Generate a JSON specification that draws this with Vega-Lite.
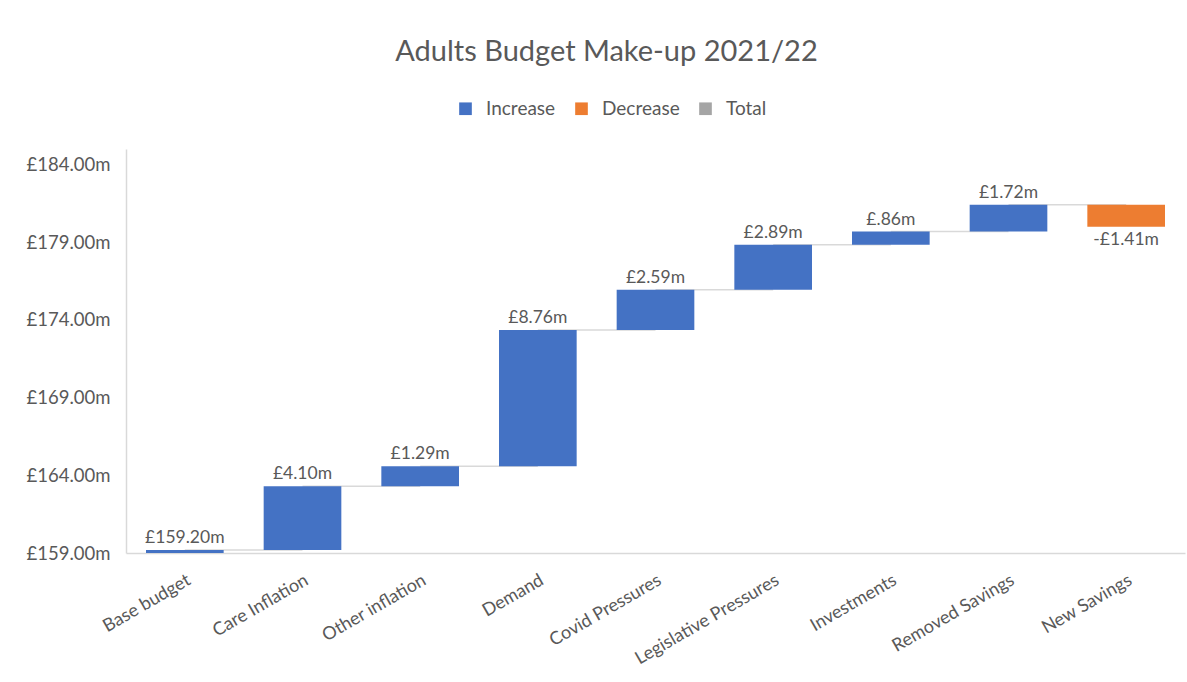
{
  "$schema": "https://vega.github.io/schema/vega-lite/v6.json",
  "width": 1059,
  "height": 404,
  "autosize": {"type": "none"},
  "padding": {"left": 126, "top": 149, "right": 2, "bottom": 129},
  "background": "white",
  "config": {
    "view": {"stroke": null},
    "font": "Lato",
    "text": {"font": "Lato"}
  },
  "title": {
    "text": "Adults Budget Make-up 2021/22",
    "fontSize": 29,
    "font": "Lato",
    "fontWeight": "normal",
    "color": "#595959",
    "anchor": "middle",
    "dx": -49,
    "offset": 32
  },
  "data": {
    "values": [
      {"cat": "Base budget", "start": 0, "end": 159.2, "type": "Increase", "label": "£159.20m", "next": "Care Inflation"},
      {"cat": "Care Inflation", "start": 159.2, "end": 163.3, "type": "Increase", "label": "£4.10m", "next": "Other inflation"},
      {"cat": "Other inflation", "start": 163.3, "end": 164.59, "type": "Increase", "label": "£1.29m", "next": "Demand"},
      {"cat": "Demand", "start": 164.59, "end": 173.35, "type": "Increase", "label": "£8.76m", "next": "Covid Pressures"},
      {"cat": "Covid Pressures", "start": 173.35, "end": 175.94, "type": "Increase", "label": "£2.59m", "next": "Legislative Pressures"},
      {"cat": "Legislative Pressures", "start": 175.94, "end": 178.83, "type": "Increase", "label": "£2.89m", "next": "Investments"},
      {"cat": "Investments", "start": 178.83, "end": 179.69, "type": "Increase", "label": "£.86m", "next": "Removed Savings"},
      {"cat": "Removed Savings", "start": 179.69, "end": 181.41, "type": "Increase", "label": "£1.72m", "next": "New Savings"},
      {"cat": "New Savings", "start": 181.41, "end": 180.0, "type": "Decrease", "label": "-£1.41m", "next": null}
    ]
  },
  "encoding": {
    "x": {
      "field": "cat",
      "type": "nominal",
      "sort": null,
      "scale": {"paddingInner": 0.34, "paddingOuter": 0.17},
      "axis": {
        "title": null,
        "labelAngle": -30,
        "labelFontSize": 18,
        "labelColor": "#595959",
        "labelFont": "Lato",
        "domainColor": "#D9D9D9",
        "domainWidth": 1.5,
        "ticks": false,
        "labelPadding": 18
      }
    }
  },
  "layer": [
    {
      "transform": [{"filter": "datum.next != null"}],
      "mark": {"type": "rule", "color": "#D9D9D9", "strokeWidth": 1.5},
      "encoding": {
        "x": {"field": "cat", "type": "nominal", "sort": null, "bandPosition": 0.5},
        "x2": {"field": "next", "bandPosition": 0.5},
        "y": {"field": "end", "type": "quantitative"}
      }
    },
    {
      "mark": {"type": "bar", "clip": true},
      "encoding": {
        "y": {
          "field": "start",
          "type": "quantitative",
          "scale": {"domain": [159, 185], "nice": false, "zero": false},
          "axis": {
            "title": null,
            "values": [159, 164, 169, 174, 179, 184],
            "labelExpr": "'£' + format(datum.value, '.2f') + 'm'",
            "labelFontSize": 18.5,
            "labelColor": "#595959",
            "labelFont": "Lato",
            "domainColor": "#D9D9D9",
            "domainWidth": 1.5,
            "ticks": false,
            "grid": false,
            "labelPadding": 16
          }
        },
        "y2": {"field": "end"},
        "color": {
          "field": "type",
          "type": "nominal",
          "scale": {"domain": ["Increase", "Decrease", "Total"], "range": ["#4472C4", "#ED7D31", "#A5A5A5"]},
          "legend": {
            "title": null,
            "orient": "none",
            "direction": "horizontal",
            "legendX": 330,
            "legendY": -50,
            "symbolType": "square",
            "symbolSize": 160,
            "symbolStrokeWidth": 0,
            "labelFontSize": 19,
            "labelFont": "Lato",
            "labelColor": "#595959",
            "columnPadding": 16,
            "labelOffset": 11
          }
        }
      }
    },
    {
      "transform": [{"filter": "datum.type == 'Increase'"}],
      "mark": {"type": "text", "baseline": "bottom", "dy": -3, "fontSize": 17.5, "color": "#595959"},
      "encoding": {
        "y": {"field": "end", "type": "quantitative"},
        "text": {"field": "label"}
      }
    },
    {
      "transform": [{"filter": "datum.type == 'Decrease'"}],
      "mark": {"type": "text", "baseline": "top", "dy": 4, "fontSize": 17.5, "color": "#595959"},
      "encoding": {
        "y": {"field": "end", "type": "quantitative"},
        "text": {"field": "label"}
      }
    }
  ]
}
